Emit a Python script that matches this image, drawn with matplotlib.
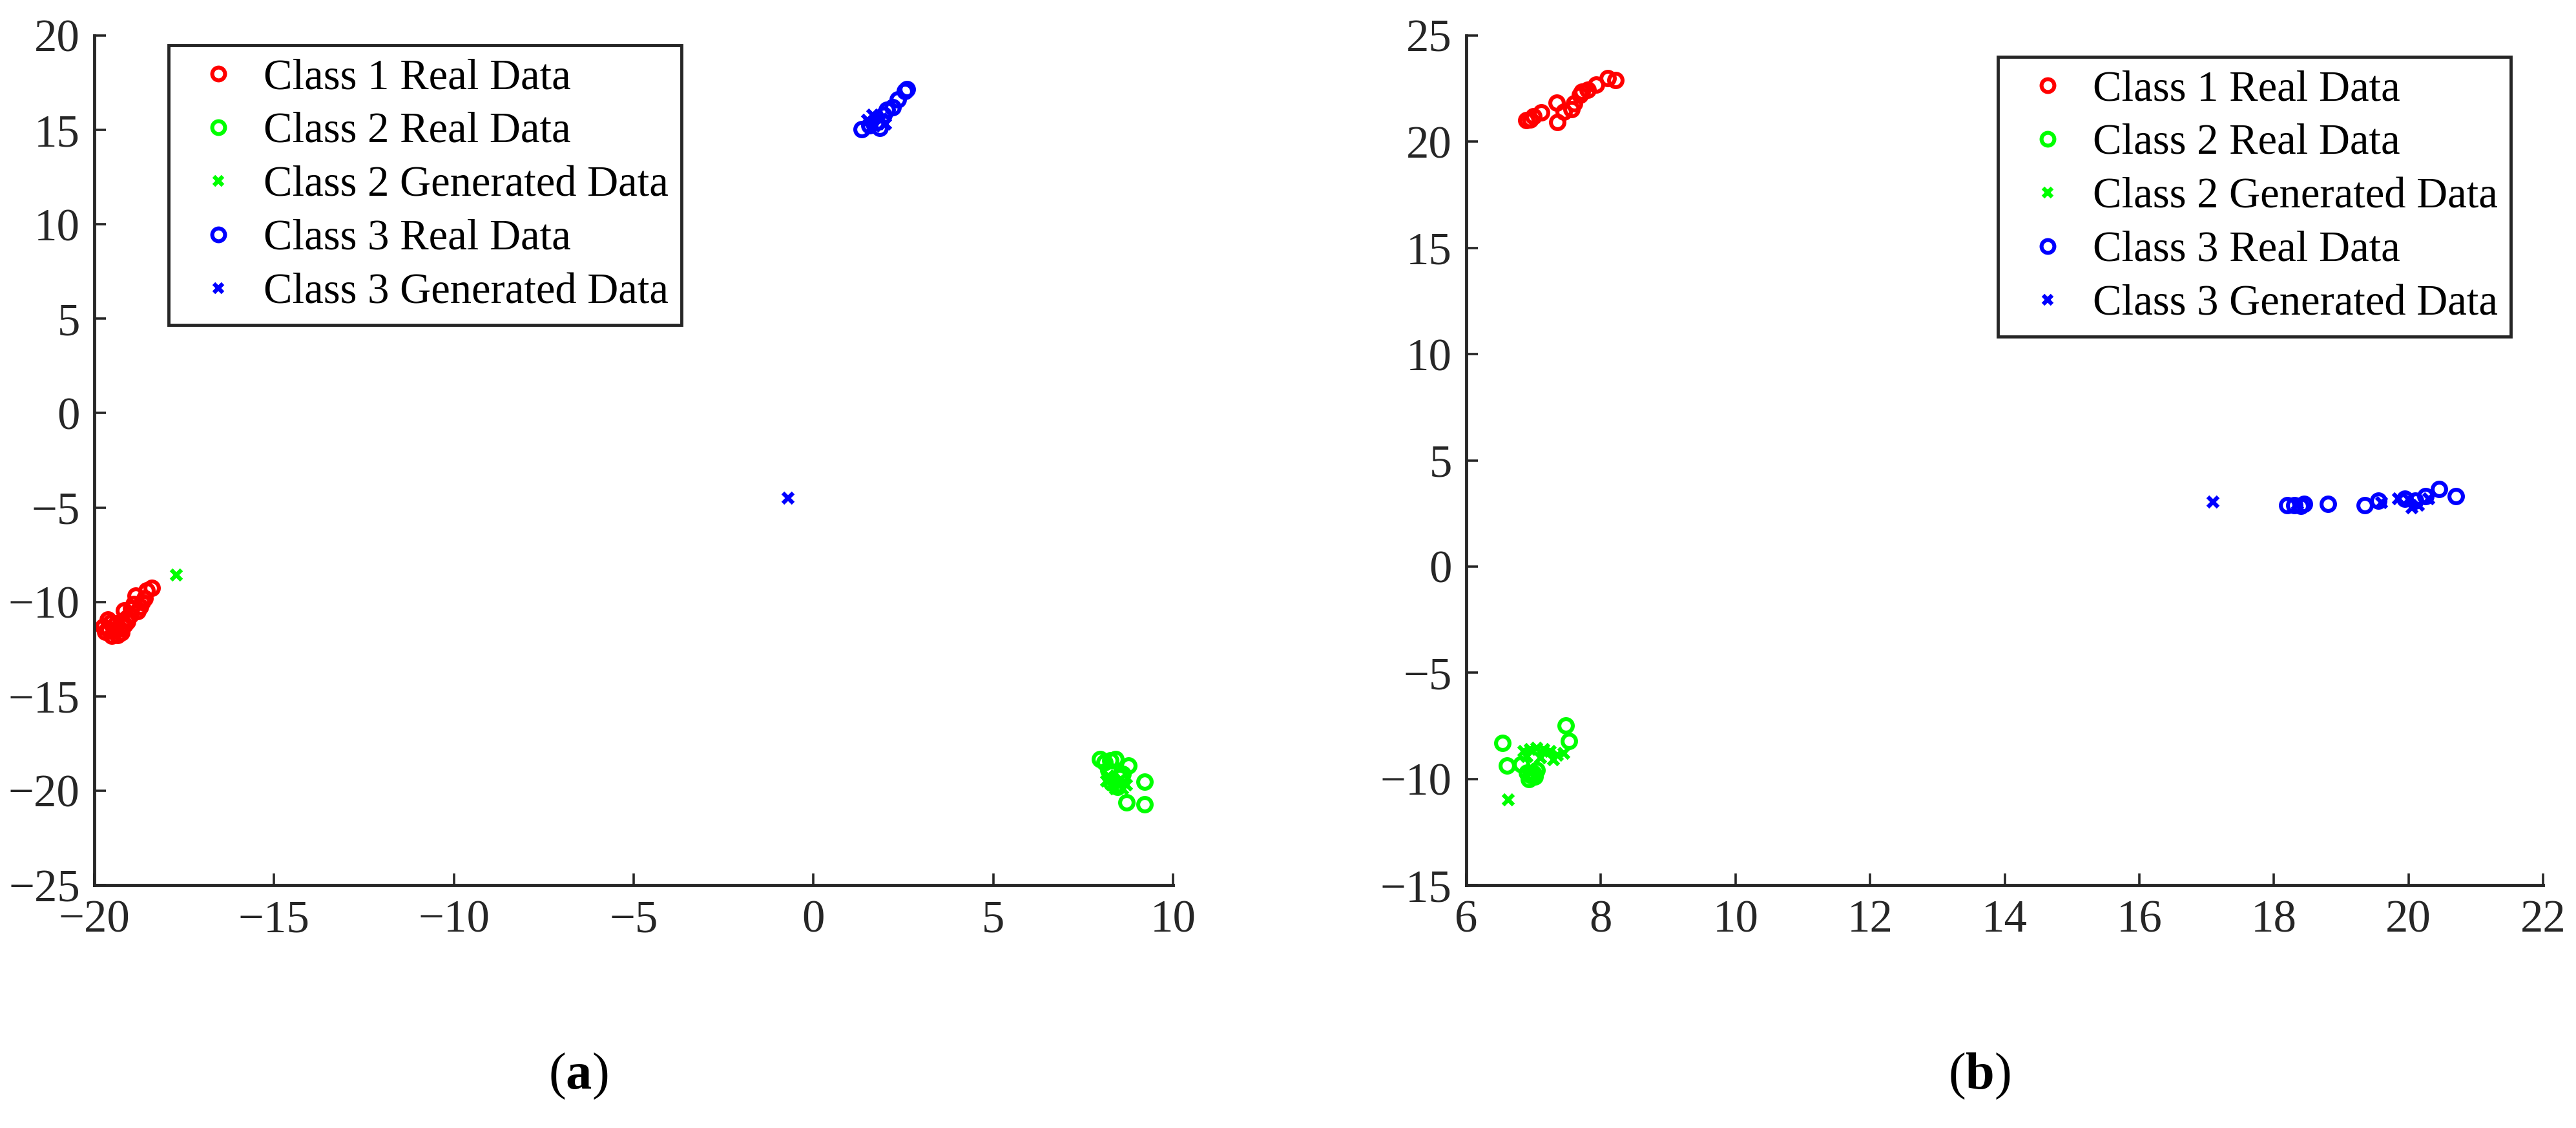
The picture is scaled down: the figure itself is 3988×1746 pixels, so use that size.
import matplotlib
matplotlib.use("Agg")
import matplotlib.pyplot as plt
import numpy as np

plt.rcParams['font.family'] = ['Liberation Serif', 'DejaVu Serif']
plt.rcParams['mathtext.fontset'] = 'custom'
plt.rcParams['mathtext.rm'] = 'Liberation Serif'
plt.rcParams['mathtext.bf'] = 'Liberation Serif:bold'

# ---------------- Panel (a) data ----------------
a_c1_real_x = [-19.75, -19.52, -19.25, -19.08, -19.17, -18.98, -18.72, -18.85, -18.54, -18.40,
               -18.67, -19.39, -19.62, -19.30, -19.45, -19.00, -18.80, -19.15, -19.55, -18.60,
               -19.70, -19.35, -19.10, -18.90, -19.60]
a_c1_real_y = [-11.31, -11.79, -11.62, -11.04, -10.46, -10.36, -10.25, -9.67, -9.40, -9.26,
               -10.01, -11.14, -10.94, -11.40, -11.50, -10.70, -10.50, -11.20, -11.10, -9.80,
               -11.60, -11.75, -10.85, -10.10, -11.45]
a_c2_real_x = [7.97, 8.40, 8.76, 9.21, 8.71, 9.21, 8.20, 8.50, 8.30, 8.60, 8.10, 8.45, 8.25]
a_c2_real_y = [-18.33, -18.33, -18.68, -19.53, -20.63, -20.73, -18.90, -19.30, -19.60, -19.10, -18.50, -19.80, -18.40]
a_c2_gen_x = [-17.72, 8.20, 8.35, 8.55, 8.40, 8.70, 8.15, 8.60]
a_c2_gen_y = [-8.58, -19.20, -19.60, -19.40, -19.90, -19.70, -19.50, -19.90]
a_c3_real_x = [1.35, 1.55, 1.75, 1.95, 2.05, 2.35, 2.55, 2.60, 1.85, 2.20]
a_c3_real_y = [15.05, 15.25, 15.40, 15.80, 16.05, 16.60, 17.05, 17.15, 15.10, 16.20]
a_c3_gen_x = [-0.71, 1.50, 1.70, 1.90, 2.00, 1.65]
a_c3_gen_y = [-4.50, 15.50, 15.20, 15.60, 15.30, 15.80]

# ---------------- Panel (b) data ----------------
b_c1_real_x = [6.89, 7.11, 7.34, 7.35, 7.56, 7.69, 7.93, 8.10, 8.22, 7.72, 7.60, 7.00, 6.95, 7.45, 7.80]
b_c1_real_y = [21.01, 21.38, 21.83, 20.92, 21.53, 22.20, 22.69, 23.00, 22.90, 22.35, 21.80, 21.20, 21.05, 21.40, 22.45]
b_c2_real_x = [6.54, 6.60, 7.48, 7.53, 6.96, 6.82, 6.90, 7.02, 7.05, 6.93, 7.00]
b_c2_real_y = [-8.30, -9.37, -7.48, -8.21, -9.82, -9.31, -9.70, -9.90, -9.60, -10.00, -9.75]
b_c2_gen_x = [6.62, 6.85, 6.95, 7.05, 7.15, 7.25, 7.35, 7.45, 7.30, 7.10, 6.90]
b_c2_gen_y = [-10.99, -8.70, -8.60, -8.55, -8.60, -8.70, -8.90, -8.80, -9.10, -9.00, -8.95]
b_c3_real_x = [18.20, 18.30, 18.40, 18.45, 18.80, 19.35, 19.55, 19.95, 20.10, 20.25, 20.45, 20.70]
b_c3_real_y = [2.90, 2.90, 2.85, 2.95, 2.95, 2.90, 3.10, 3.20, 3.10, 3.30, 3.65, 3.30]
b_c3_gen_x = [17.10, 18.35, 19.60, 19.85, 20.00, 20.15, 20.30, 20.05]
b_c3_gen_y = [3.05, 2.95, 3.00, 3.20, 3.15, 2.90, 3.20, 2.75]

labels = ['Class 1 Real Data', 'Class 2 Real Data', 'Class 2 Generated Data',
          'Class 3 Real Data', 'Class 3 Generated Data']

W, H = 3988, 1746
fig = plt.figure(figsize=(W / 100, H / 100), dpi=100)

ax_a = fig.add_axes([146 / W, 1 - 1370 / H, (1816 - 146) / W, (1370 - 55) / H])
ax_b = fig.add_axes([2270 / W, 1 - 1370 / H, (3937 - 2270) / W, (1370 - 55) / H])

RED, GREEN, BLUE = (1, 0, 0), (0, 1, 0), (0, 0, 1)
circ = dict(marker='o', linestyle='none', markersize=15, markeredgewidth=4.4, markerfacecolor='none')
xm = dict(marker='x', linestyle='none', markersize=11, markeredgewidth=4.6)


def draw(ax, data):
    (c1x, c1y), (c2x, c2y), (g2x, g2y), (c3x, c3y), (g3x, g3y) = data
    h1, = ax.plot(c1x, c1y, color=RED, markeredgecolor=RED, **circ)
    h2, = ax.plot(c2x, c2y, color=GREEN, markeredgecolor=GREEN, **circ)
    h3, = ax.plot(g2x, g2y, color=GREEN, markeredgecolor=GREEN, **xm)
    h4, = ax.plot(c3x, c3y, color=BLUE, markeredgecolor=BLUE, **circ)
    h5, = ax.plot(g3x, g3y, color=BLUE, markeredgecolor=BLUE, **xm)
    for s in ['top', 'right']:
        ax.spines[s].set_visible(False)
    for s in ['left', 'bottom']:
        ax.spines[s].set_linewidth(3.5)
        ax.spines[s].set_color('#262626')
    ax.tick_params(direction='in', length=13, width=2.6, colors='#262626',
                   labelsize=51, pad=16, labelcolor='#262626')
    return [h1, h2, h3, h4, h5]


ha = draw(ax_a, [(a_c1_real_x, a_c1_real_y), (a_c2_real_x, a_c2_real_y), (a_c2_gen_x, a_c2_gen_y),
                 (a_c3_real_x, a_c3_real_y), (a_c3_gen_x, a_c3_gen_y)])
ax_a.set_xlim(-20, 10)
ax_a.set_ylim(-25, 20)
ax_a.set_xticks(np.arange(-20, 11, 5))
ax_a.set_yticks(np.arange(-25, 21, 5))

hb = draw(ax_b, [(b_c1_real_x, b_c1_real_y), (b_c2_real_x, b_c2_real_y), (b_c2_gen_x, b_c2_gen_y),
                 (b_c3_real_x, b_c3_real_y), (b_c3_gen_x, b_c3_gen_y)])
ax_b.set_xlim(6, 22)
ax_b.set_ylim(-15, 25)
ax_b.set_xticks(np.arange(6, 23, 2))
ax_b.set_yticks(np.arange(-15, 26, 5))

fmt = matplotlib.ticker.FuncFormatter(lambda v, p: f"{int(round(v))}".replace('-', '\u2212'))
for ax in (ax_a, ax_b):
    ax.xaxis.set_major_formatter(fmt)
    ax.yaxis.set_major_formatter(fmt)

leg_kw = dict(loc='upper left', fontsize=48, frameon=True, fancybox=False, borderpad=0.3,
              handlelength=1.7, handletextpad=0.2, labelspacing=0.33, borderaxespad=0,
              markerscale=0.95)
la = ax_a.legend(ha, labels, bbox_to_anchor=(261 / W, 1 - 70 / H), bbox_transform=fig.transFigure, **leg_kw)
lb = ax_b.legend(hb, labels, bbox_to_anchor=(3093 / W, 1 - 88 / H), bbox_transform=fig.transFigure, **leg_kw)
for lg in (la, lb):
    fr = lg.get_frame()
    fr.set_edgecolor('#262626')
    fr.set_linewidth(3.5)
    fr.set_alpha(1)

fig.text(895 / W, 1 - 1666 / H, r'($\mathbf{a}$)', ha='center', va='center', fontsize=58)
fig.text(3064 / W, 1 - 1666 / H, r'($\mathbf{b}$)', ha='center', va='center', fontsize=58)

fig.savefig('out.png', dpi=100, facecolor='white')
